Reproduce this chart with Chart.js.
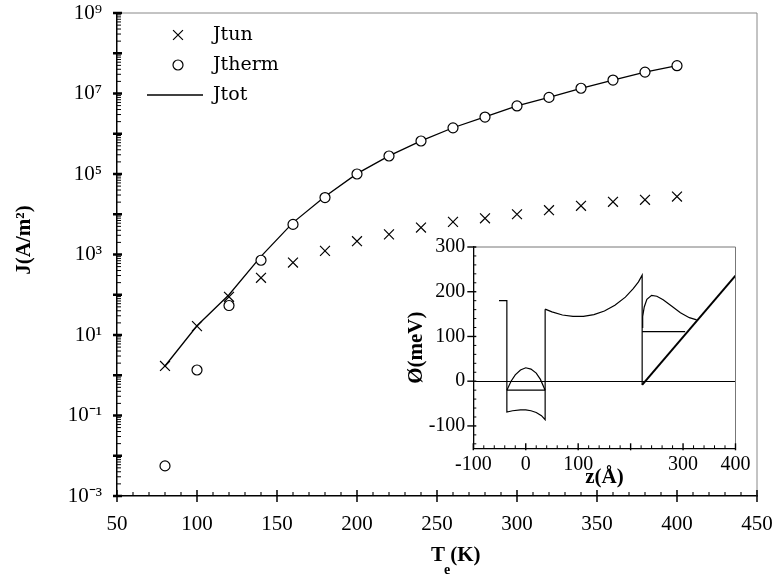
<!DOCTYPE html>
<html><head><meta charset="utf-8">
<script src="https://cdn.jsdelivr.net/npm/chart.js@4.4.1/dist/chart.umd.min.js"></script>
<style>
html,body{margin:0;padding:0;background:#fff;}
#main{position:absolute;left:0;top:0;width:776px;height:580px;}
#inset{position:absolute;left:400px;top:232px;width:350px;height:262px;}
</style></head><body>
<div id="main"><canvas id="c1"></canvas></div>
<div id="inset"><canvas id="c2"></canvas></div>
<script>
// ---- main chart data ----
const temperatures = [80,100,120,140,160,180,200,220,240,260,280,300,320,340,360,380,400];
const jTun   = [1.7,16.6,89,263,631,1230,2140,3160,4680,6460,7940,10000,12600,16200,20400,22900,27500];
const jTherm = [0.0056,1.35,54,720,5600,26000,100000,280000,660000,1400000,2600000,4900000,8000000,13500000,21600000,34000000,49000000];
const jTot   = [1.7,17,100,900,6200,27500,102000,283000,665000,1410000,2610000,4910000,8010000,13500000,21600000,34000000,49000000];
const xTickValues = [50,100,150,200,250,300,350,400,450];
const yTickExponents = [9,7,5,3,1,-1,-3];
const seriesLabels = ['Jtun','Jtherm','Jtot'];

// ---- inset data (z in Å, potential in meV) ----
const insetOuterWell = [[-51,180],[-36,180],[-36,-69],[-25,-66],[-10,-64],[0,-64],[10,-66],[20,-70],[30,-77],[37,-86],[37,161]];
const insetBarrier = [[37,161],[50,155],[70,148],[90,145],[110,145],[130,149],[150,157],[170,170],[190,188],[205,207],[215,222],[222,237],[222,-8]];
const insetSlope = [[222,-8],[400,236]];
const insetArch = [[-36,-20],[-28,0],[-20,14],[-10,25],[0,30],[10,27],[20,18],[28,4],[37,-20]];
const insetLevel = [[-36,-20],[37,-20]];
const insetBump = [[222,120],[223,145],[226,166],[231,183],[240,192],[250,190],[262,182],[278,168],[295,153],[312,142],[326,137]];
const insetLevel2 = [[222,111],[304,111]];
const insetXTicks = [-100,0,100,200,300,400];
const insetXTickLabels = ['-100','0','100','','300','400'];
const insetYTicks = [-100,0,100,200,300];

const SERIF = "'Liberation Serif','Times New Roman',serif";
const SUP = {'-':'\u207B','0':'\u2070','1':'\u00B9','2':'\u00B2','3':'\u00B3','4':'\u2074','5':'\u2075','6':'\u2076','7':'\u2077','8':'\u2078','9':'\u2079'};
const sup = s => String(s).split('').map(c=>SUP[c]||c).join('');

const toXY = (xs, ys) => xs.map((x,i)=>({x:x, y:ys[i]}));
const pairs = arr => arr.map(p=>({x:p[0], y:p[1]}));

function line(ctx,x1,y1,x2,y2,w){ctx.lineWidth=w;ctx.beginPath();ctx.moveTo(x1,y1);ctx.lineTo(x2,y2);ctx.stroke();}
function noOverflowX(s,h){s.height=h;s.paddingLeft=0;s.paddingRight=0;}
function noOverflowY(s,w){s.width=w;s.paddingTop=0;s.paddingBottom=0;}

const mainDecor = {
  id:'mainDecor',
  afterDraw(chart){
    const {ctx, chartArea:a, scales:{x,y}} = chart;
    ctx.save();
    ctx.strokeStyle='#888';
    line(ctx,a.left,a.top,a.right,a.top,1);
    line(ctx,a.right,a.top,a.right,a.bottom,1);
    ctx.strokeStyle='#000';
    for(let v=50; v<=450; v+=10){
      const px = x.getPixelForValue(v);
      if(v%50===0) line(ctx,px,a.bottom-6,px,a.bottom+6,1.5);
      else line(ctx,px,a.bottom-4,px,a.bottom,1.1);
    }
    for(let e=-3; e<=9; e++){
      for(let m=1; m<=9; m++){
        const v = m*Math.pow(10,e);
        if(v>1e9*1.0001) break;
        const py = y.getPixelForValue(v);
        if(m===1) line(ctx,a.left-4,py,a.left+5,py,2.5);
        else line(ctx,a.left-1,py,a.left+4,py,1);
      }
    }
    // legend
    const ds = chart.data.datasets;
    const lx = 178, rows=[35,65,95], tx=213;
    ctx.font = "19px 'DejaVu Serif',serif";
    ctx.fillStyle='#000'; ctx.textBaseline='middle'; ctx.textAlign='left';
    ds.forEach((d,i)=>{
      const yy = rows[i];
      ctx.strokeStyle='#000';
      if(d.pointStyle==='crossRot'){
        const r=d.pointRadius*0.707;
        ctx.lineWidth=d.borderWidth;
        ctx.beginPath();ctx.moveTo(lx-r,yy-r);ctx.lineTo(lx+r,yy+r);ctx.moveTo(lx-r,yy+r);ctx.lineTo(lx+r,yy-r);ctx.stroke();
      } else if(d.pointStyle==='circle' && !d.showLine){
        ctx.lineWidth=d.borderWidth;ctx.fillStyle='#fff';
        ctx.beginPath();ctx.arc(lx,yy,d.pointRadius,0,Math.PI*2);ctx.fill();ctx.stroke();
        ctx.fillStyle='#000';
      } else {
        line(ctx,147,yy,203,yy,d.borderWidth);
      }
      ctx.fillText(d.label, tx, yy);
    });
    // axis titles
    ctx.save();
    ctx.translate(25,240); ctx.rotate(-Math.PI/2);
    ctx.textAlign='center'; ctx.textBaseline='middle';
    ctx.font = "bold 21px "+SERIF;
    ctx.fillText('J(A/m\u00B2)',0,0);
    ctx.restore();
    ctx.textBaseline='alphabetic'; ctx.textAlign='left';
    ctx.font = "bold 21px "+SERIF;
    let cx = 431;
    ctx.fillText('T',cx,561); cx += ctx.measureText('T').width;
    ctx.font = "bold 14px "+SERIF;
    ctx.fillText('e',cx-1,574); cx += ctx.measureText('e').width-1;
    ctx.font = "bold 21px "+SERIF;
    ctx.fillText('(K)',cx,561);
    ctx.restore();
  }
};

new Chart(document.getElementById('c1'), {
  type:'line',
  data:{datasets:[
    {label:seriesLabels[0], data:toXY(temperatures,jTun), showLine:false, pointStyle:'crossRot', pointRadius:7, borderColor:'#000', pointBorderColor:'#000', borderWidth:1.2, pointBorderWidth:1.2, order:1},
    {label:seriesLabels[1], data:toXY(temperatures,jTherm), showLine:false, pointStyle:'circle', pointRadius:5, pointBackgroundColor:'#fff', borderColor:'#000', pointBorderColor:'#000', borderWidth:1.2, pointBorderWidth:1.2, order:0},
    {label:seriesLabels[2], data:toXY(temperatures,jTot), showLine:true, pointRadius:0, borderColor:'#000', borderWidth:1.3, tension:0, fill:false, order:2}
  ]},
  options:{
    responsive:true, maintainAspectRatio:false, animation:false,
    layout:{padding:{top:13,right:19,left:0,bottom:0}},
    plugins:{legend:{display:false}, tooltip:{enabled:false}},
    scales:{
      x:{type:'linear', min:50, max:450,
        afterBuildTicks:s=>{s.ticks = xTickValues.map(v=>({value:v}));},
        ticks:{font:{family:SERIF,size:21}, color:'#000', padding:8, maxRotation:0, autoSkip:false},
        grid:{display:false}, border:{display:true,color:'#000',width:1.5},
        afterFit:s=>noOverflowX(s,84)},
      y:{type:'logarithmic', min:1e-3, max:1e9,
        afterBuildTicks:s=>{s.ticks = yTickExponents.map(e=>({value:Math.pow(10,e)}));},
        ticks:{font:{family:SERIF,size:21}, color:'#000', padding:7, autoSkip:false,
          callback:v=>'10'+sup(Math.round(Math.log10(v)))},
        grid:{display:false}, border:{display:true,color:'#000',width:1.5},
        afterFit:s=>noOverflowY(s,117)}
    }
  },
  plugins:[mainDecor]
});

// ---- inset ----
const insetDecor = {
  id:'insetDecor',
  afterDraw(chart){
    const {ctx, chartArea:a, scales:{x,y}} = chart;
    ctx.save();
    ctx.strokeStyle='#777';
    line(ctx,a.left,a.top,a.right,a.top,1);
    line(ctx,a.right,a.top,a.right,a.bottom,1);
    ctx.strokeStyle='#000';
    for(let v=-100; v<=400; v+=20){
      const px = x.getPixelForValue(v);
      if(v%100===0) line(ctx,px,a.bottom-5,px,a.bottom+2,1.4);
      else line(ctx,px,a.bottom-3,px,a.bottom,1);
    }
    for(let v=-140; v<=300; v+=20){
      const py = y.getPixelForValue(v);
      if(v%100===0) line(ctx,a.left-6,py,a.left+3,py,1.4);
      else line(ctx,a.left,py,a.left+3,py,1);
    }
    ctx.restore();
  }
};
const lineDs = (arr,w)=>({data:pairs(arr), showLine:true, pointRadius:0, borderColor:'#000', borderWidth:w, tension:0, fill:false});
new Chart(document.getElementById('c2'), {
  type:'scatter',
  data:{datasets:[
    lineDs(insetOuterWell,1.2), lineDs(insetBarrier,1.2), lineDs(insetSlope,2),
    lineDs(insetArch,1.2), lineDs(insetLevel,1.2), lineDs(insetBump,1.2), lineDs(insetLevel2,1.2)
  ]},
  options:{
    responsive:true, maintainAspectRatio:false, animation:false,
    layout:{padding:{top:15,right:14.5,left:0,bottom:0}},
    plugins:{legend:{display:false}, tooltip:{enabled:false}},
    scales:{
      x:{type:'linear', min:-100, max:400,
        afterBuildTicks:s=>{s.ticks = insetXTicks.map(v=>({value:v}));},
        ticks:{font:{family:SERIF,size:20}, color:'#000', padding:-4, maxRotation:0, autoSkip:false,
          callback:(v,i)=>insetXTickLabels[i]},
        grid:{display:false}, border:{display:true,color:'#000',width:1.3},
        title:{display:true, text:'z(\u00C5)', font:{family:SERIF,size:21,weight:'bold'}, color:'#000', padding:{top:0,bottom:4}},
        afterFit:s=>noOverflowX(s,45.7)},
      y:{type:'linear', min:-150, max:300,
        afterBuildTicks:s=>{s.ticks = insetYTicks.map(v=>({value:v}));},
        ticks:{font:{family:SERIF,size:20}, color:'#000', padding:8, autoSkip:false, callback:v=>String(v)},
        grid:{display:true, drawOnChartArea:true, drawTicks:false, lineWidth:1,
          color:c=>(c.tick && c.tick.value===0) ? '#000' : 'rgba(0,0,0,0)'},
        border:{display:true,color:'#000',width:1.3},
        title:{display:true, text:'\u00D8(meV)', font:{family:SERIF,size:21,weight:'bold'}, color:'#000', padding:{top:4,bottom:0}},
        afterFit:s=>noOverflowY(s,73.3)}
    }
  },
  plugins:[insetDecor]
});
</script>
</body></html>
